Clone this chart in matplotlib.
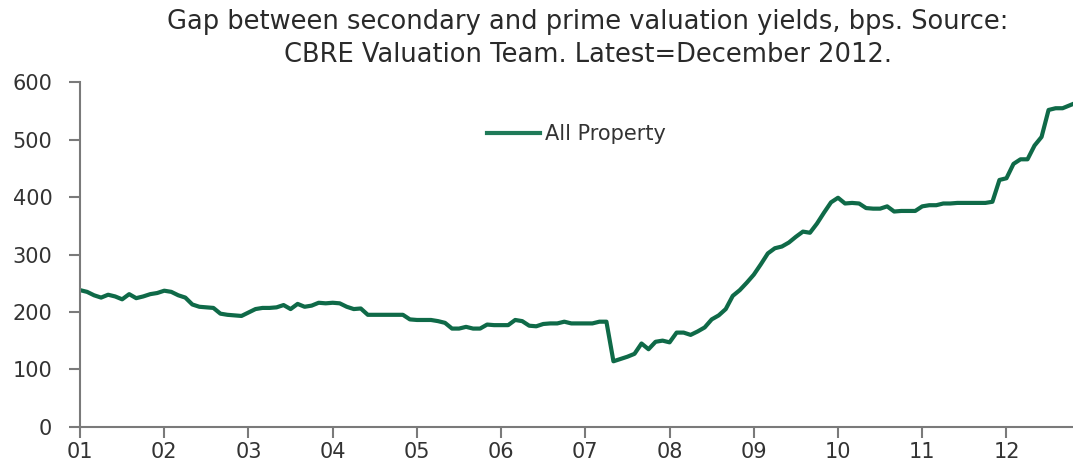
import numpy as np
import matplotlib
matplotlib.use("Agg")
import matplotlib.pyplot as plt

# monthly gap, bps, Jan 2001 .. Dec 2012
start_year = 2001
gap_bps = [
    238, 235, 229, 225, 230, 227, 222, 231, 224, 227, 231, 233,   # 2001
    237, 235, 229, 225, 213, 209, 208, 207, 197, 195, 194, 193,   # 2002
    199, 205, 207, 207, 208, 212, 205, 214, 209, 211, 216, 215,   # 2003
    216, 215, 209, 205, 206, 195, 195, 195, 195, 195, 195, 187,   # 2004
    186, 186, 186, 184, 181, 171, 171, 174, 171, 171, 178, 177,   # 2005
    177, 177, 186, 184, 176, 175, 179, 180, 180, 183, 180, 180,   # 2006
    180, 180, 183, 183, 114, 118, 122, 127, 145, 135, 148, 150,   # 2007
    147, 164, 164, 160, 166, 173, 187, 194, 205, 228, 238, 251,   # 2008
    265, 283, 302, 311, 314, 321, 331, 340, 338, 354, 373, 391,   # 2009
    399, 389, 390, 389, 381, 380, 380, 384, 375, 376, 376, 376,   # 2010
    384, 386, 386, 389, 389, 390, 390, 390, 390, 390, 392, 430,   # 2011
    433, 458, 466, 466, 490, 505, 552, 555, 555, 560, 565, 570,   # 2012
]
year_labels = ["01", "02", "03", "04", "05", "06", "07", "08", "09", "10", "11", "12"]
series_name = "All Property"

x = start_year + np.arange(len(gap_bps)) / 12.0

fig = plt.figure(figsize=(10.73, 4.63), dpi=100)
ax = fig.add_axes([0.0746, 0.0784, 0.9254, 0.7436])

ax.plot(x, gap_bps, color="#0f6a48", lw=3.0, label=series_name, solid_joinstyle="round")

ax.set_xlim(2001, 2012.79)
ax.set_ylim(0, 600)
ax.set_yticks(range(0, 601, 100))
ax.set_xticks(range(2001, 2013))
ax.set_xticklabels(year_labels)

for s in ["top", "right"]:
    ax.spines[s].set_visible(False)
for s in ["left", "bottom"]:
    ax.spines[s].set_color("#7a7a7a")
    ax.spines[s].set_linewidth(1.5)
ax.tick_params(axis="both", colors="#7a7a7a", width=1.5, length=8, labelsize=15,
               labelcolor="#333333")
ax.tick_params(axis="y", pad=12)
ax.tick_params(axis="x", pad=3)

leg = ax.legend(loc="center", bbox_to_anchor=(0.5, 0.85), frameon=False,
                fontsize=15, handlelength=2.5, handletextpad=0.25)
for t in leg.get_texts():
    t.set_color("#333333")
for h in leg.get_lines():
    h.set_color("#1f7a58")

fig.text(0.548, 0.952, "Gap between secondary and prime valuation yields, bps. Source:",
         ha="center", va="center", fontsize=18.5, color="#2a2a2a")
fig.text(0.548, 0.881, "CBRE Valuation Team. Latest=December 2012.",
         ha="center", va="center", fontsize=18.5, color="#2a2a2a")

fig.savefig("out.png", dpi=100)
